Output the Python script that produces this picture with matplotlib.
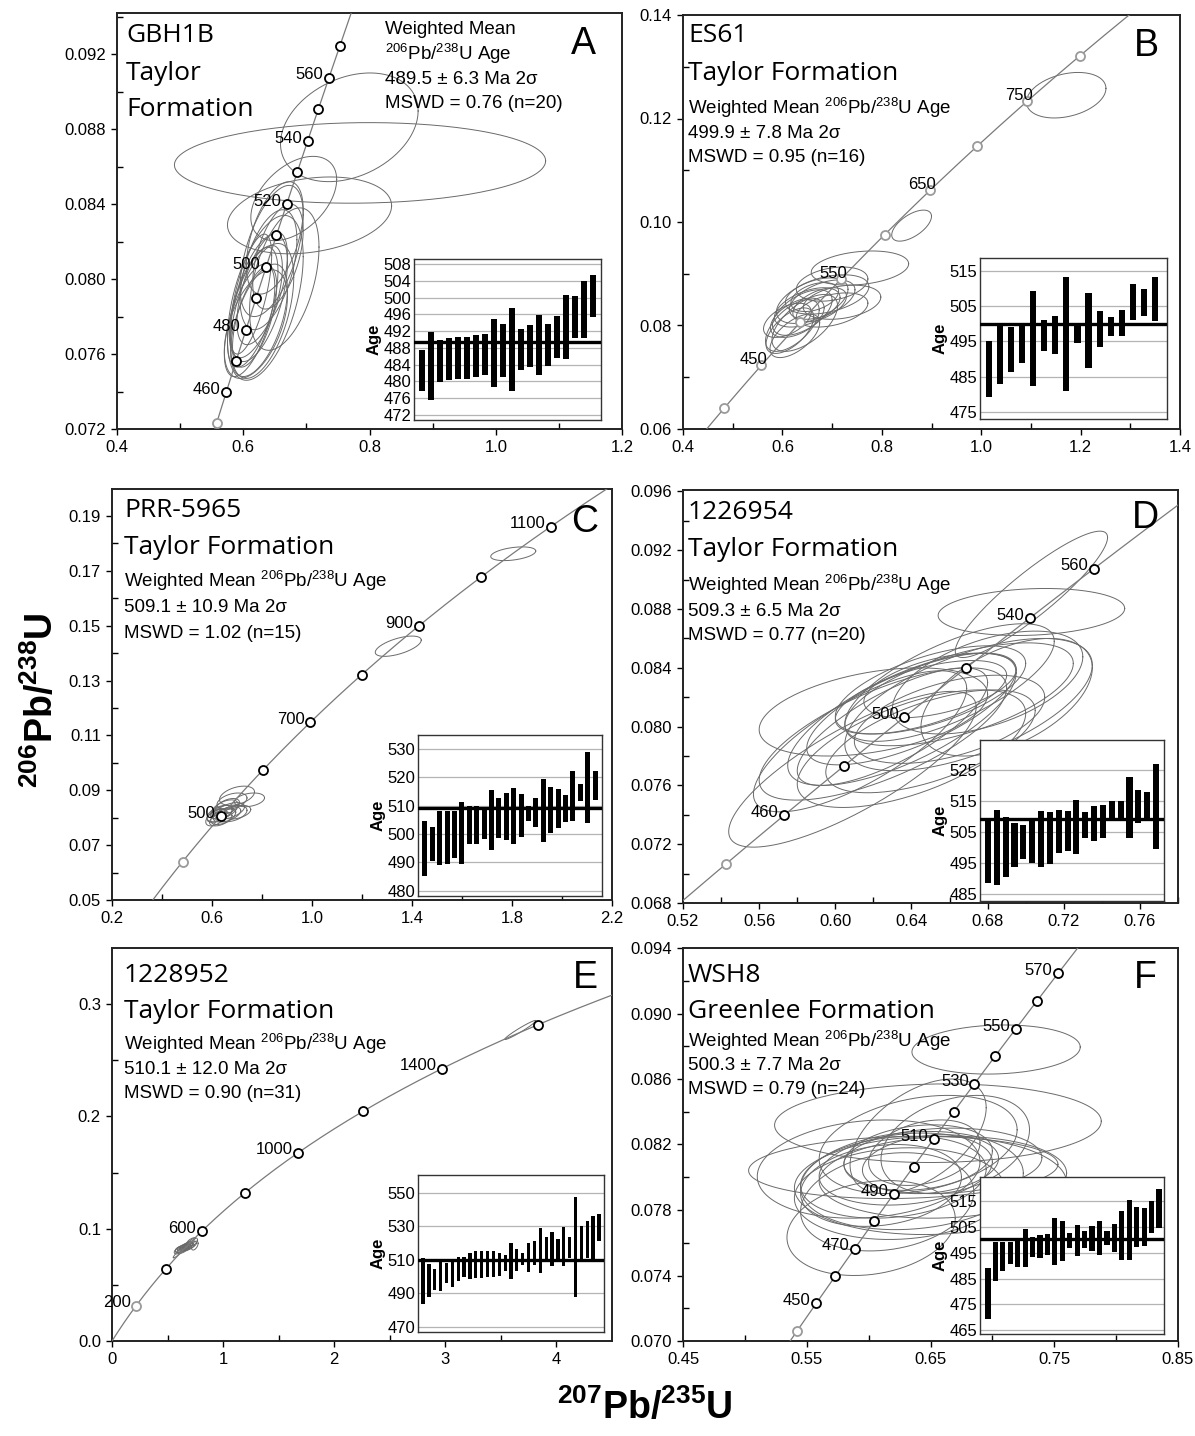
import numpy as np
import matplotlib
matplotlib.use('Agg')
import matplotlib.pyplot as plt
from matplotlib.ticker import FixedLocator, FormatStrFormatter

plt.rcParams['font.family'] = ['Liberation Sans', 'DejaVu Sans']
plt.rcParams['mathtext.fontset'] = 'custom'
plt.rcParams['mathtext.rm'] = 'Liberation Sans'
plt.rcParams['mathtext.bf'] = 'Liberation Sans:bold'
plt.rcParams['mathtext.it'] = 'Liberation Sans:italic'

W, H = 1195, 1436

# decay constants (1/yr)
L238 = 1.55125e-10
L235 = 9.8485e-10

# ---------------- data ----------------
# ellipses: (207Pb/235U, 206Pb/238U, err x, err y, rho)
A_ellipses = [
    (0.785, 0.0862, 0.294, 0.00215, 0.05),
    (0.768, 0.0881, 0.109, 0.0029, 0.3),
    (0.705, 0.0834, 0.130, 0.00205, 0.25),
    (0.680, 0.0843, 0.068, 0.00225, 0.45),
    (0.650, 0.0822, 0.045, 0.0030, 0.5),
    (0.645, 0.0815, 0.050, 0.0035, 0.55),
    (0.655, 0.0812, 0.040, 0.0028, 0.5),
    (0.640, 0.0805, 0.045, 0.0032, 0.5),
    (0.665, 0.0800, 0.055, 0.0038, 0.45),
    (0.630, 0.0795, 0.040, 0.0030, 0.6),
    (0.625, 0.0790, 0.045, 0.0034, 0.55),
    (0.620, 0.0788, 0.042, 0.0030, 0.6),
    (0.615, 0.0785, 0.040, 0.0032, 0.6),
    (0.630, 0.0783, 0.050, 0.0036, 0.5),
    (0.618, 0.0780, 0.035, 0.0027, 0.6),
    (0.610, 0.0778, 0.040, 0.0030, 0.6),
    (0.625, 0.0778, 0.045, 0.0030, 0.55),
    (0.620, 0.0776, 0.050, 0.0029, 0.5),
    (0.635, 0.0790, 0.060, 0.0044, 0.5),
    (0.612, 0.0792, 0.033, 0.0032, 0.65),
]
B_ellipses = [
    (1.171, 0.1245, 0.080, 0.0044, 0.3),
    (0.860, 0.0993, 0.040, 0.0030, 0.6),
    (0.756, 0.0911, 0.098, 0.0033, 0.25),
    (0.700, 0.0880, 0.072, 0.0033, 0.3),
    (0.690, 0.0860, 0.084, 0.0038, 0.4),
    (0.720, 0.0845, 0.078, 0.0033, 0.3),
    (0.680, 0.0850, 0.066, 0.0038, 0.5),
    (0.660, 0.0848, 0.072, 0.0044, 0.5),
    (0.675, 0.0840, 0.054, 0.0033, 0.5),
    (0.650, 0.0835, 0.066, 0.0038, 0.5),
    (0.640, 0.0825, 0.060, 0.0044, 0.55),
    (0.700, 0.0830, 0.072, 0.0033, 0.4),
    (0.630, 0.0815, 0.054, 0.0038, 0.5),
    (0.620, 0.0800, 0.054, 0.0050, 0.6),
    (0.615, 0.0790, 0.048, 0.0044, 0.6),
    (0.645, 0.0805, 0.066, 0.0055, 0.6),
    (0.665, 0.0855, 0.048, 0.0028, 0.4),
    (0.610, 0.0810, 0.048, 0.0033, 0.5),
    (0.625, 0.0780, 0.050, 0.0042, 0.6),
]
C_ellipses = [
    (1.805, 0.1762, 0.090, 0.0025, 0.4),
    (1.345, 0.1425, 0.092, 0.0037, 0.6),
    (0.700, 0.0880, 0.070, 0.0035, 0.4),
    (0.750, 0.0865, 0.060, 0.0025, 0.3),
    (0.680, 0.0860, 0.060, 0.0030, 0.4),
    (0.660, 0.0840, 0.050, 0.0030, 0.5),
    (0.650, 0.0830, 0.055, 0.0035, 0.5),
    (0.670, 0.0825, 0.060, 0.0030, 0.5),
    (0.640, 0.0820, 0.045, 0.0025, 0.5),
    (0.630, 0.0815, 0.050, 0.0030, 0.5),
    (0.660, 0.0812, 0.055, 0.0028, 0.5),
    (0.620, 0.0808, 0.040, 0.0025, 0.5),
    (0.645, 0.0805, 0.050, 0.0030, 0.5),
    (0.680, 0.0815, 0.060, 0.0030, 0.4),
    (0.615, 0.0800, 0.040, 0.0030, 0.5),
    (0.700, 0.0820, 0.055, 0.0025, 0.4),
    (0.635, 0.0795, 0.045, 0.0025, 0.5),
]
D_ellipses = [
    (0.703, 0.0890, 0.040, 0.0043, 0.9),
    (0.703, 0.0878, 0.049, 0.0016, 0.15),
    (0.609, 0.0771, 0.065, 0.0053, 0.8),
    (0.613, 0.0790, 0.056, 0.0048, 0.75),
    (0.660, 0.0830, 0.055, 0.0040, 0.7),
    (0.650, 0.0825, 0.050, 0.0030, 0.6),
    (0.645, 0.0820, 0.045, 0.0025, 0.6),
    (0.655, 0.0828, 0.040, 0.0022, 0.5),
    (0.665, 0.0822, 0.060, 0.0035, 0.6),
    (0.640, 0.0812, 0.055, 0.0038, 0.7),
    (0.635, 0.0805, 0.060, 0.0045, 0.7),
    (0.670, 0.0815, 0.065, 0.0045, 0.6),
    (0.630, 0.0800, 0.050, 0.0040, 0.75),
    (0.625, 0.0795, 0.065, 0.0045, 0.7),
    (0.680, 0.0830, 0.050, 0.0035, 0.5),
    (0.690, 0.0820, 0.045, 0.0040, 0.5),
    (0.620, 0.0810, 0.060, 0.0030, 0.4),
    (0.660, 0.0805, 0.050, 0.0030, 0.5),
    (0.650, 0.0790, 0.055, 0.0035, 0.6),
    (0.640, 0.0785, 0.060, 0.0040, 0.6),
]
E_ellipses = [
    (3.675, 0.2770, 0.140, 0.0085, 0.97),
    (0.650, 0.0830, 0.100, 0.0090, 0.97),
    (0.720, 0.0880, 0.050, 0.0040, 0.5),
    (0.700, 0.0855, 0.060, 0.0035, 0.5),
    (0.680, 0.0850, 0.050, 0.0030, 0.5),
    (0.660, 0.0840, 0.050, 0.0030, 0.5),
    (0.640, 0.0830, 0.050, 0.0030, 0.5),
    (0.620, 0.0820, 0.050, 0.0030, 0.5),
    (0.650, 0.0825, 0.040, 0.0025, 0.5),
    (0.670, 0.0830, 0.045, 0.0030, 0.5),
    (0.630, 0.0810, 0.045, 0.0030, 0.5),
    (0.690, 0.0840, 0.050, 0.0030, 0.5),
    (0.610, 0.0815, 0.040, 0.0030, 0.5),
    (0.600, 0.0805, 0.040, 0.0030, 0.5),
    (0.745, 0.0850, 0.030, 0.0040, 0.5),
]
F_ellipses = [
    (0.703, 0.0878, 0.068, 0.0015, 0.1),
    (0.656, 0.0833, 0.132, 0.0024, 0.05),
    (0.628, 0.0806, 0.125, 0.0019, 0.1),
    (0.602, 0.0769, 0.068, 0.0029, 0.2),
    (0.640, 0.0820, 0.080, 0.0030, 0.3),
    (0.640, 0.0812, 0.060, 0.0020, 0.2),
    (0.630, 0.0805, 0.070, 0.0022, 0.2),
    (0.650, 0.0808, 0.055, 0.0018, 0.2),
    (0.620, 0.0800, 0.075, 0.0025, 0.2),
    (0.660, 0.0810, 0.080, 0.0020, 0.1),
    (0.610, 0.0795, 0.065, 0.0025, 0.2),
    (0.635, 0.0798, 0.090, 0.0030, 0.15),
    (0.645, 0.0815, 0.045, 0.0020, 0.3),
    (0.625, 0.0790, 0.085, 0.0028, 0.1),
    (0.615, 0.0785, 0.070, 0.0030, 0.2),
    (0.660, 0.0800, 0.100, 0.0025, 0.1),
    (0.650, 0.0795, 0.110, 0.0030, 0.05),
    (0.600, 0.0805, 0.090, 0.0030, 0.15),
    (0.640, 0.0825, 0.055, 0.0035, 0.5),
    (0.670, 0.0820, 0.060, 0.0030, 0.3),
]

# concordia age markers (Ma)
A_marks = [450, 460, 470, 480, 490, 500, 510, 520, 530, 540, 550, 560, 570]
A_grey = [450]
A_labels = [460, 480, 500, 520, 540, 560]
B_marks = [400, 450, 500, 550, 600, 650, 700, 750, 800]
B_grey = [400, 450, 500, 550, 600, 650, 700, 750, 800]
B_labels = [450, 550, 650, 750]
C_marks = [400, 500, 600, 700, 800, 900, 1000, 1100]
C_grey = [400]
C_labels = [500, 700, 900, 1100]
D_marks = [440, 460, 480, 500, 520, 540, 560]
D_grey = [440]
D_labels = [460, 500, 540, 560]
E_marks = [200, 400, 600, 800, 1000, 1200, 1400, 1600]
E_grey = [200]
E_labels = [200, 600, 1000, 1400]
F_marks = [440, 450, 460, 470, 480, 490, 500, 510, 520, 530, 540, 550, 560, 570]
F_grey = [440]
F_labels = [450, 470, 490, 510, 530, 550, 570]

# inset 206Pb/238U ages: bar bottoms / tops and weighted means
A_lo = [477.7, 475.5, 479.8, 480.3, 480.5, 480.5, 481.1, 481.5, 478.7, 481.1,
        477.7, 482.7, 483.5, 481.5, 483.7, 485.5, 485.3, 490.4, 490.4, 495.3]
A_hi = [487.6, 491.8, 489.8, 490.4, 490.5, 490.5, 491.0, 491.3, 494.8, 493.6,
        497.5, 492.6, 493.4, 495.9, 493.6, 495.5, 500.5, 500.3, 504.0, 505.4]
B_lo = [479.2, 483.0, 486.3, 489.0, 482.2, 492.4, 491.3, 480.8, 494.5, 487.3,
        493.5, 496.6, 496.6, 501.0, 502.2, 500.8]
B_hi = [495.2, 500.0, 499.0, 499.5, 509.4, 501.2, 502.4, 513.3, 499.8, 508.9,
        503.6, 501.9, 504.1, 511.3, 510.1, 513.3]
C_lo = [485.1, 490.5, 489.2, 489.4, 491.5, 489.3, 496.4, 496.4, 498.2, 494.3, 498.5, 497.9,
        496.5, 499.0, 504.4, 502.6, 497.3, 500.2, 502.0, 504.2, 504.4, 511.5, 503.8, 511.8]
C_hi = [504.4, 502.6, 508.0, 508.0, 508.0, 511.2, 509.8, 509.8, 509.4, 515.4, 512.7, 514.5,
        516.1, 513.9, 509.8, 512.7, 519.5, 516.5, 515.7, 513.7, 522.3, 517.5, 528.8, 522.0]
D_lo = [488.7, 488.1, 490.4, 493.8, 496.3, 495.2, 493.8, 494.7, 498.4, 499.0,
        498.0, 503.2, 502.1, 503.2, 509.3, 509.3, 503.2, 508.1, 509.1, 499.5]
D_hi = [509.3, 512.1, 509.8, 507.9, 507.2, 509.3, 511.8, 511.6, 512.1, 511.9,
        515.3, 511.6, 513.6, 513.9, 515.0, 515.2, 522.8, 518.7, 517.9, 527.0]
E_lo = [483.4, 487.8, 492.3, 491.5, 496.0, 493.8, 497.6, 499.9, 498.6, 499.1, 499.1,
        499.5, 499.9, 500.5, 503.3, 498.6, 503.3, 507.1, 502.9, 506.8, 502.4, 509.0,
        506.2, 509.0, 506.2, 511.0, 488.1, 510.0, 511.0, 510.0, 520.9]
E_hi = [511.0, 507.5, 504.3, 509.0, 508.1, 508.7, 511.9, 511.9, 513.8, 515.1, 515.1,
        515.1, 515.1, 514.3, 512.9, 520.1, 516.7, 513.8, 520.1, 520.9, 529.0, 523.3,
        526.6, 522.4, 529.4, 523.7, 547.5, 530.0, 532.9, 536.3, 537.2]
F_lo = [469.2, 483.9, 487.9, 490.7, 489.4, 489.4, 493.2, 493.0, 494.0, 490.1, 491.7, 496.8,
        493.6, 496.8, 495.8, 494.0, 498.0, 495.3, 492.1, 492.0, 497.0, 497.4, 502.5, 504.6]
F_hi = [488.9, 499.1, 499.1, 499.1, 500.6, 504.1, 501.2, 501.8, 502.1, 508.2, 507.2, 502.5,
        505.6, 503.4, 505.4, 507.2, 503.4, 506.1, 510.9, 515.4, 512.6, 512.2, 514.8, 519.6]
means = {'A': 489.5, 'B': 499.9, 'C': 509.1, 'D': 509.3, 'E': 510.1, 'F': 500.3}

# texts
names = {'A': ['GBH1B', 'Taylor', 'Formation'], 'B': ['ES61', 'Taylor Formation'],
         'C': ['PRR-5965', 'Taylor Formation'], 'D': ['1226954', 'Taylor Formation'],
         'E': ['1228952', 'Taylor Formation'], 'F': ['WSH8', 'Greenlee Formation']}
pbu = r'$^{206}$Pb/$^{238}$U Age'
stats = {'A': ['Weighted Mean', pbu, '489.5 ± 6.3 Ma 2σ', 'MSWD = 0.76 (n=20)'],
         'B': ['Weighted Mean ' + pbu, '499.9 ± 7.8 Ma 2σ', 'MSWD = 0.95 (n=16)'],
         'C': ['Weighted Mean ' + pbu, '509.1 ± 10.9 Ma 2σ', 'MSWD = 1.02 (n=15)'],
         'D': ['Weighted Mean ' + pbu, '509.3 ± 6.5 Ma 2σ', 'MSWD = 0.77 (n=20)'],
         'E': ['Weighted Mean ' + pbu, '510.1 ± 12.0 Ma 2σ', 'MSWD = 0.90 (n=31)'],
         'F': ['Weighted Mean ' + pbu, '500.3 ± 7.7 Ma 2σ', 'MSWD = 0.79 (n=24)']}

# axis ticks
A_xt, A_xm = [0.4, 0.6, 0.8, 1.0, 1.2], [0.5, 0.7, 0.9, 1.1]
A_yt, A_ym = [0.072, 0.076, 0.080, 0.084, 0.088, 0.092], [0.074, 0.078, 0.082, 0.086, 0.090, 0.094]
B_xt, B_xm = [0.4, 0.6, 0.8, 1.0, 1.2, 1.4], [0.5, 0.7, 0.9, 1.1, 1.3]
B_yt, B_ym = [0.06, 0.08, 0.10, 0.12, 0.14], [0.07, 0.09, 0.11, 0.13]
C_xt, C_xm = [0.2, 0.6, 1.0, 1.4, 1.8, 2.2], [0.4, 0.8, 1.2, 1.6, 2.0]
C_yt, C_ym = [0.05, 0.07, 0.09, 0.11, 0.13, 0.15, 0.17, 0.19], [0.06, 0.08, 0.10, 0.12, 0.14, 0.16, 0.18]
D_xt, D_xm = [0.52, 0.56, 0.60, 0.64, 0.68, 0.72, 0.76], [0.54, 0.58, 0.62, 0.66, 0.70, 0.74, 0.78]
D_yt, D_ym = [0.068, 0.072, 0.076, 0.080, 0.084, 0.088, 0.092, 0.096], [0.070, 0.074, 0.078, 0.082, 0.086, 0.090, 0.094]
E_xt, E_xm = [0, 1, 2, 3, 4], [0.5, 1.5, 2.5, 3.5]
E_yt, E_ym = [0.0, 0.1, 0.2, 0.3], [0.05, 0.15, 0.25]
F_xt, F_xm = [0.45, 0.55, 0.65, 0.75, 0.85], [0.50, 0.60, 0.70, 0.80]
F_yt, F_ym = [0.070, 0.074, 0.078, 0.082, 0.086, 0.090, 0.094], [0.072, 0.076, 0.080, 0.084, 0.088, 0.092]

A_it, B_it = list(range(472, 509, 4)), list(range(475, 516, 10))
C_it, D_it = list(range(480, 531, 10)), list(range(485, 526, 10))
E_it, F_it = list(range(470, 551, 20)), list(range(465, 516, 10))

panels = [
    dict(key='A', box=(117, 13, 622, 429), xlim=(0.4, 1.2), ylim=(0.072, 0.0942),
         xt=A_xt, xm=A_xm, yt=A_yt, ym=A_ym, xf='%.1f', yf='%.3f',
         ell=A_ellipses, marks=A_marks, grey=A_grey, labels=A_labels, loff=(-4, 2),
         ibox=(414, 259, 601, 420), iylim=(470.8, 509.2), it=A_it, ixlim=(0.1, 20.9), bw=0.64,
         lo=A_lo, hi=A_hi, tx=126, ty=[35, 73, 110], sx=385, sy=[29, 54, 79, 104], let=(583, 44)),
    dict(key='B', box=(683, 15, 1180, 429), xlim=(0.4, 1.4), ylim=(0.06, 0.14),
         xt=B_xt, xm=B_xm, yt=B_yt, ym=B_ym, xf='%.1f', yf='%.2f',
         ell=B_ellipses, marks=B_marks, grey=B_grey, labels=B_labels, loff=(4, 4),
         ibox=(980, 258, 1167, 419), iylim=(472.9, 518.8), it=B_it, ixlim=(0.18, 17.1), bw=0.55,
         lo=B_lo, hi=B_hi, tx=688, ty=[36, 73], sx=688, sy=[108, 133, 158], let=(1146, 46)),
    dict(key='C', box=(112, 489, 612, 900), xlim=(0.2, 2.2), ylim=(0.05, 0.1998),
         xt=C_xt, xm=C_xm, yt=C_yt, ym=C_ym, xf='%.1f', yf='%.2f',
         ell=C_ellipses, marks=C_marks, grey=C_grey, labels=C_labels, loff=(-4, 2),
         ibox=(418, 735, 602, 896), iylim=(478.2, 534.8), it=C_it, ixlim=(0.06, 24.94), bw=0.68,
         lo=C_lo, hi=C_hi, tx=124, ty=[511, 548], sx=124, sy=[581, 607, 633], let=(585, 522)),
    dict(key='D', box=(683, 490, 1178, 903), xlim=(0.52, 0.78), ylim=(0.068, 0.0961),
         xt=D_xt, xm=D_xm, yt=D_yt, ym=D_ym, xf='%.2f', yf='%.3f',
         ell=D_ellipses, marks=D_marks, grey=D_grey, labels=D_labels, loff=(-4, 2),
         ibox=(980, 740, 1164, 901), iylim=(482.8, 534.8), it=D_it, ixlim=(0.1, 20.9), bw=0.68,
         lo=D_lo, hi=D_hi, tx=688, ty=[513, 550], sx=688, sy=[585, 611, 636], let=(1145, 518)),
    dict(key='E', box=(112, 948, 612, 1341), xlim=(0, 4.5), ylim=(0, 0.35),
         xt=E_xt, xm=E_xm, yt=E_yt, ym=E_ym, xf='%d', yf='%.1f',
         ell=E_ellipses, marks=E_marks, grey=E_grey, labels=E_labels, loff=(-4, 2),
         ibox=(418, 1175, 604, 1332), iylim=(467, 560.5), it=E_it, ixlim=(0.14, 31.86), bw=0.55,
         lo=E_lo, hi=E_hi, tx=124, ty=[975, 1011], sx=124, sy=[1044, 1069, 1093], let=(585, 978)),
    dict(key='F', box=(683, 948, 1178, 1341), xlim=(0.45, 0.85), ylim=(0.070, 0.094),
         xt=F_xt, xm=F_xm, yt=F_yt, ym=F_ym, xf='%.2f', yf='%.3f',
         ell=F_ellipses, marks=F_marks, grey=F_grey, labels=F_labels, loff=(-4, 2),
         ibox=(980, 1177, 1164, 1334), iylim=(463.6, 524.2), it=F_it, ixlim=(-0.07, 24.67), bw=0.70,
         lo=F_lo, hi=F_hi, tx=688, ty=[975, 1011], sx=688, sy=[1041, 1066, 1090], let=(1145, 978)),
]


def concordia(t_ma):
    t = np.asarray(t_ma, dtype=float) * 1e6
    return np.exp(L235 * t) - 1, np.exp(L238 * t) - 1


def rect(x0, y0, x1, y1):
    return [x0 / W, 1 - y1 / H, (x1 - x0) / W, (y1 - y0) / H]


def ftext(x, y, s, **kw):
    fig.text(x / W, 1 - y / H, s, va='center', **kw)


fig = plt.figure(figsize=(W / 100, H / 100), dpi=100)

curve_ages = np.linspace(0, 2000, 2000)
tt = np.linspace(0, 2 * np.pi, 240)

for p in panels:
    ax = fig.add_axes(rect(*p['box']))
    ax.set_xlim(*p['xlim'])
    ax.set_ylim(*p['ylim'])
    for s in ax.spines.values():
        s.set_linewidth(1.4)
        s.set_color('#222222')

    # ellipses
    for cx, cy, ex, ey, rho in p['ell']:
        ex_ = cx + ex * np.cos(tt)
        ey_ = cy + ey * (rho * np.cos(tt) + np.sqrt(1 - rho ** 2) * np.sin(tt))
        ax.plot(ex_, ey_, color='#6a6a6a', lw=0.7, zorder=2)

    # concordia
    cx, cy = concordia(curve_ages)
    ax.plot(cx, cy, color='#7a7a7a', lw=0.9, zorder=3)
    mx, my = concordia(p['marks'])
    for a, x, y in zip(p['marks'], mx, my):
        ec = '#9a9a9a' if a in p['grey'] else 'black'
        ax.plot(x, y, 'o', ms=6.5, mfc='white', mec=ec, mew=1.3, zorder=4)
        if a in p['labels']:
            ax.annotate(str(a), (x, y), xytext=p['loff'], textcoords='offset points',
                        ha='right', va='center', fontsize=12, zorder=5)

    ax.xaxis.set_major_locator(FixedLocator(p['xt']))
    ax.xaxis.set_minor_locator(FixedLocator(p['xm']))
    ax.yaxis.set_major_locator(FixedLocator(p['yt']))
    ax.yaxis.set_minor_locator(FixedLocator(p['ym']))
    ax.xaxis.set_major_formatter(FormatStrFormatter(p['xf']))
    ax.yaxis.set_major_formatter(FormatStrFormatter(p['yf']))
    ax.tick_params(which='major', direction='out', length=4, width=1.0, labelsize=12, pad=4)
    ax.tick_params(which='minor', direction='in', length=4, width=1.0)

    # texts
    k = p['key']
    for s, y in zip(names[k], p['ty']):
        ftext(p['tx'], y, s, family=['Open Sans', 'DejaVu Sans'], fontsize=19)
    for s, y in zip(stats[k], p['sy']):
        ftext(p['sx'], y, s, fontsize=13.5)
    ftext(p['let'][0], p['let'][1], k, fontsize=27, ha='center')

    # inset of ages
    ia = fig.add_axes(rect(*p['ibox']))
    ia.set_facecolor('white')
    idx = np.arange(1, len(p['lo']) + 1)
    lo = np.array(p['lo'])
    hi = np.array(p['hi'])
    ia.bar(idx, hi - lo, bottom=lo, width=p['bw'], color='black', zorder=3)
    ia.axhline(means[k], color='black', lw=2.4, zorder=4)
    ia.set_xlim(*p['ixlim'])
    ia.set_ylim(*p['iylim'])
    ia.set_yticks(p['it'])
    ia.set_xticks([])
    ia.yaxis.grid(True, color='#b4b4b4', lw=0.9)
    ia.set_axisbelow(True)
    ia.tick_params(axis='y', length=0, labelsize=12, pad=2)
    for s in ia.spines.values():
        s.set_linewidth(1.0)
        s.set_color('#333333')
    ia.set_ylabel('Age', fontweight='bold', fontsize=12, labelpad=1)

fig.text(42 / W, 1 - 700 / H, r'$\mathbf{^{206}Pb/^{238}U}$', rotation=90,
         fontsize=27, ha='center', va='center')
fig.text(645 / W, 1 - 1408 / H, r'$\mathbf{^{207}Pb/^{235}U}$',
         fontsize=27, ha='center', va='center')

fig.savefig('out.png', dpi=100)
